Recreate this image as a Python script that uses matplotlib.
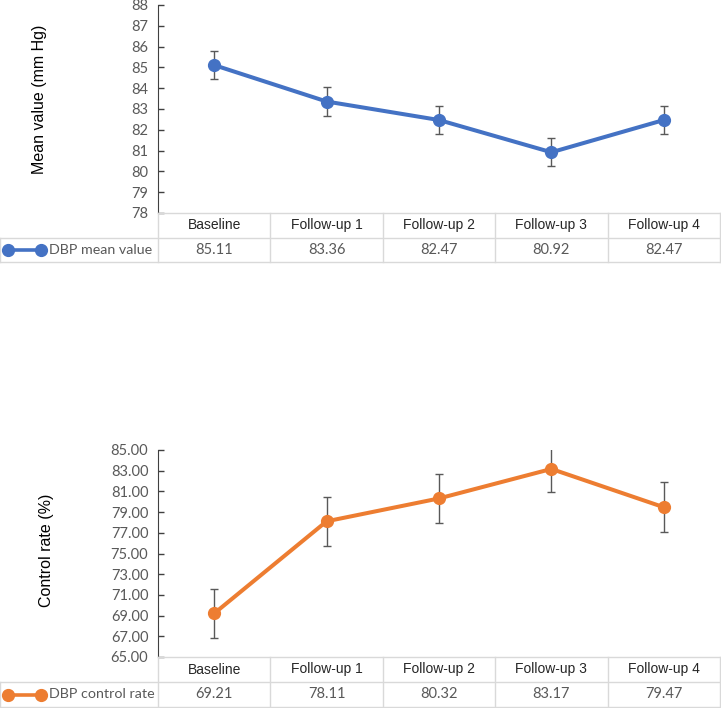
import matplotlib
matplotlib.use("Agg")
import matplotlib.pyplot as plt
from matplotlib.ticker import FormatStrFormatter

plt.rcParams["font.family"] = ["Lato", "DejaVu Sans"]

categories = ["Baseline", "Follow-up 1", "Follow-up 2", "Follow-up 3", "Follow-up 4"]

mean_values = [85.11, 83.36, 82.47, 80.92, 82.47]
mean_err = [0.67, 0.70, 0.67, 0.67, 0.67]

control_rate = [69.21, 78.11, 80.32, 83.17, 79.47]
control_err = [2.38, 2.38, 2.37, 2.25, 2.40]

W, H = 721, 708
AX_LEFT, AX_RIGHT = 158, 720
BLUE = "#4472C4"
ORANGE = "#ED7D31"
GRID = "#D9D9D9"
GREY = "#595959"


def px_rect(left, top, right, bottom):
    return [left / W, 1 - bottom / H, (right - left) / W, (bottom - top) / H]


def draw_panel(fig, top, bottom, row_h, values, errors, color, ylim, yticks, fmt,
               ylabel, label_xy, series_name):
    ax = fig.add_axes(px_rect(AX_LEFT, top, AX_RIGHT, bottom))
    x = list(range(len(categories)))
    ax.errorbar(x, values, yerr=errors, fmt="none", ecolor=GREY, elinewidth=1,
                capsize=3, capthick=1, zorder=2)
    ax.plot(x, values, color=color, lw=2.9, marker="o", ms=8.5, zorder=3)
    ax.set_xlim(-0.5, len(categories) - 0.5)
    ax.set_ylim(*ylim)
    ax.set_yticks(yticks)
    ax.yaxis.set_major_formatter(FormatStrFormatter(fmt))
    ax.tick_params(axis="y", direction="in", length=4, width=1, color="#404040",
                   labelcolor=GREY, labelsize=10.5, pad=7)
    ax.set_xticks([])
    for s in ["top", "right", "bottom"]:
        ax.spines[s].set_visible(False)
    ax.spines["left"].set_color("#404040")
    ax.patch.set_alpha(0)

    fig.text(label_xy[0] / W, 1 - label_xy[1] / H, ylabel, rotation=90,
             ha="center", va="center", fontsize=11.5, family="Liberation Sans",
             color="black")

    # data table below the axis
    tab = fig.add_axes(px_rect(0, bottom, W, bottom + 2 * row_h))
    tab.set_axis_off()
    colw = (AX_RIGHT - AX_LEFT) / len(categories)

    def to_x(px):
        return -0.5 + (px - AX_LEFT) / colw

    tab.set_xlim(to_x(0), to_x(W))
    tab.set_ylim(2, 0)
    n = len(categories)
    kw = dict(color=GRID, lw=1, clip_on=False)
    tab.plot([-0.5, n - 0.5], [0, 0], **kw)
    tab.plot([to_x(0.5), n - 0.5], [1, 1], **kw)
    tab.plot([to_x(0.5), n - 0.5], [2, 2], **kw)
    tab.plot([to_x(0.5), to_x(0.5)], [1, 2], **kw)
    for k in range(n + 1):
        tab.plot([k - 0.5, k - 0.5], [0, 2], **kw)
    for i, (cat, v) in enumerate(zip(categories, values)):
        tab.text(i, 0.5, cat, ha="center", va="center", fontsize=10,
                 family="Liberation Sans", color="#262626")
        tab.text(i, 1.5, f"{v:.2f}", ha="center", va="center", fontsize=10.5,
                 color=GREY)
    tab.plot([to_x(8), to_x(41)], [1.5, 1.5], color=color, lw=2.6,
             marker="o", ms=8.5, clip_on=False)
    tab.text(to_x(49), 1.5, series_name, ha="left", va="center", fontsize=10.3,
             color=GREY)
    return ax


fig = plt.figure(figsize=(W / 100, H / 100), dpi=100)

draw_panel(fig, 5, 213, 24.5, mean_values, mean_err, BLUE, (78, 88),
           list(range(78, 89)), "%d", "Mean value (mm Hg)", (40, 99),
           "DBP mean value")

draw_panel(fig, 450, 657, 25, control_rate, control_err, ORANGE, (65, 85),
           list(range(65, 86, 2)), "%.2f", "Control rate (%)", (46, 550),
           "DBP control rate")

fig.savefig("out.png", dpi=100)
